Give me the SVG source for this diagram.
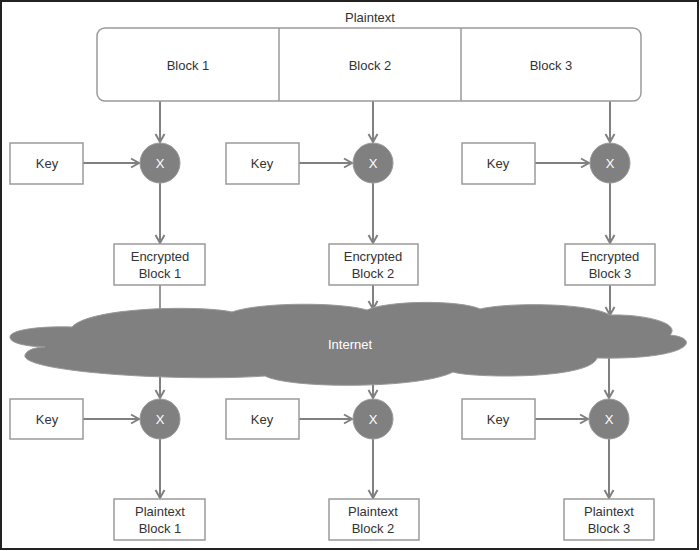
<svg xmlns="http://www.w3.org/2000/svg" width="700" height="551" viewBox="0 0 700 551">
<defs>
<marker id="arr" markerUnits="userSpaceOnUse" markerWidth="12" markerHeight="12" refX="9" refY="5" orient="auto" viewBox="0 0 12 10">
<path d="M1,0.5 L9,5 L1,9.5" fill="none" stroke="#808080" stroke-width="2"/>
</marker>
</defs>
<style>
.box{fill:#fff;stroke:#9a9a9a;stroke-width:1.5}
.op{fill:#808080;stroke:#9a9a9a;stroke-width:1}
.t{font-family:"Liberation Sans",Arial,sans-serif;font-size:13px;fill:#333;text-anchor:middle}
.w{font-family:"Liberation Sans",Arial,sans-serif;font-size:13px;fill:#fff;text-anchor:middle}
.c{stroke:#808080;stroke-width:2;fill:none;marker-end:url(#arr)}
</style>
<rect x="1" y="1" width="697" height="548" fill="#fff" stroke="#222" stroke-width="2"/>

<g id="connectors">
<line class="c" x1="160" y1="101" x2="160" y2="142"/>
<line class="c" x1="373" y1="101" x2="373" y2="142"/>
<line class="c" x1="610" y1="101" x2="610" y2="142"/>
<line class="c" x1="83" y1="163" x2="139" y2="163"/>
<line class="c" x1="299" y1="163" x2="352" y2="163"/>
<line class="c" x1="535" y1="163" x2="589" y2="163"/>
<line class="c" x1="160" y1="183" x2="160" y2="243"/>
<line class="c" x1="373" y1="183" x2="373" y2="243"/>
<line class="c" x1="610" y1="183" x2="610" y2="243"/>
<line x1="160" y1="285" x2="160" y2="320" stroke="#333" stroke-width="1"/>
<line class="c" x1="373" y1="285" x2="373" y2="309"/>
<line class="c" x1="610" y1="285" x2="610" y2="315"/>
<line class="c" x1="160" y1="360" x2="160" y2="398"/>
<line class="c" x1="373" y1="360" x2="373" y2="398"/>
<line class="c" x1="609" y1="350" x2="609" y2="398"/>
<line class="c" x1="83" y1="419" x2="139" y2="419"/>
<line class="c" x1="299" y1="419" x2="352" y2="419"/>
<line class="c" x1="535" y1="419" x2="588" y2="419"/>
<line class="c" x1="160" y1="439" x2="160" y2="498"/>
<line class="c" x1="373" y1="439" x2="373" y2="498"/>
<line class="c" x1="609" y1="439" x2="609" y2="498"/>
</g>

<g id="plaintext">
<text class="t" x="370" y="22">Plaintext</text>
<rect class="box" x="97" y="28" width="544" height="73" rx="8"/>
<line x1="279" y1="28" x2="279" y2="101" stroke="#9a9a9a" stroke-width="1.5"/>
<line x1="461" y1="28" x2="461" y2="101" stroke="#9a9a9a" stroke-width="1.5"/>
</g>
<g id="block1"><text class="t" x="188" y="70">Block 1</text></g>
<g id="block2"><text class="t" x="370" y="70">Block 2</text></g>
<g id="block3"><text class="t" x="551" y="70">Block 3</text></g>

<g id="key1"><rect class="box" x="10" y="143" width="73" height="41"/><text class="t" x="47" y="168">Key</text></g>
<g id="key2"><rect class="box" x="226" y="143" width="73" height="41"/><text class="t" x="262" y="168">Key</text></g>
<g id="key3"><rect class="box" x="462" y="143" width="73" height="41"/><text class="t" x="498" y="168">Key</text></g>

<g id="xor1"><circle class="op" cx="160" cy="163" r="20"/><text class="w" x="160" y="168">X</text></g>
<g id="xor2"><circle class="op" cx="373" cy="163" r="20"/><text class="w" x="373" y="168">X</text></g>
<g id="xor3"><circle class="op" cx="610" cy="163" r="20"/><text class="w" x="610" y="168">X</text></g>

<g id="enc1"><rect class="box" x="114" y="244" width="91" height="41"/><text class="t" x="160" y="261">Encrypted</text><text class="t" x="160" y="278">Block 1</text></g>
<g id="enc2"><rect class="box" x="329" y="244" width="89" height="41"/><text class="t" x="373" y="261">Encrypted</text><text class="t" x="373" y="278">Block 2</text></g>
<g id="enc3"><rect class="box" x="565" y="244" width="90" height="41"/><text class="t" x="610" y="261">Encrypted</text><text class="t" x="610" y="278">Block 3</text></g>

<g id="internet">
<path fill="#808080" stroke="#9a9a9a" stroke-width="1" d="M 10,337 C 10,329 45,326 72,327 C 90,307 200,305 232,312 C 260,302 340,302 367,310 C 390,300 460,300 480,309 C 510,302 590,303 610,315 C 640,314 682,322 670,335 C 702,338 692,360 597,358 C 590,380 470,378 453,372 C 420,389 290,389 265,376 C 180,382 20,372 25,355 C 27,349 38,347 45,347 C 20,346 10,342 10,337 Z"/>
<text class="w" x="350" y="349">Internet</text>
</g>

<g id="key4"><rect class="box" x="10" y="399" width="73" height="40"/><text class="t" x="47" y="424">Key</text></g>
<g id="key5"><rect class="box" x="226" y="399" width="73" height="40"/><text class="t" x="262" y="424">Key</text></g>
<g id="key6"><rect class="box" x="462" y="399" width="73" height="40"/><text class="t" x="498" y="424">Key</text></g>

<g id="xor4"><circle class="op" cx="160" cy="419" r="20"/><text class="w" x="160" y="424">X</text></g>
<g id="xor5"><circle class="op" cx="373" cy="419" r="20"/><text class="w" x="373" y="424">X</text></g>
<g id="xor6"><circle class="op" cx="609" cy="419" r="20"/><text class="w" x="609" y="424">X</text></g>

<g id="pt1"><rect class="box" x="114" y="499" width="91" height="41"/><text class="t" x="160" y="516">Plaintext</text><text class="t" x="160" y="533">Block 1</text></g>
<g id="pt2"><rect class="box" x="329" y="499" width="90" height="41"/><text class="t" x="373" y="516">Plaintext</text><text class="t" x="373" y="533">Block 2</text></g>
<g id="pt3"><rect class="box" x="564" y="499" width="90" height="41"/><text class="t" x="609" y="516">Plaintext</text><text class="t" x="609" y="533">Block 3</text></g>
</svg>
